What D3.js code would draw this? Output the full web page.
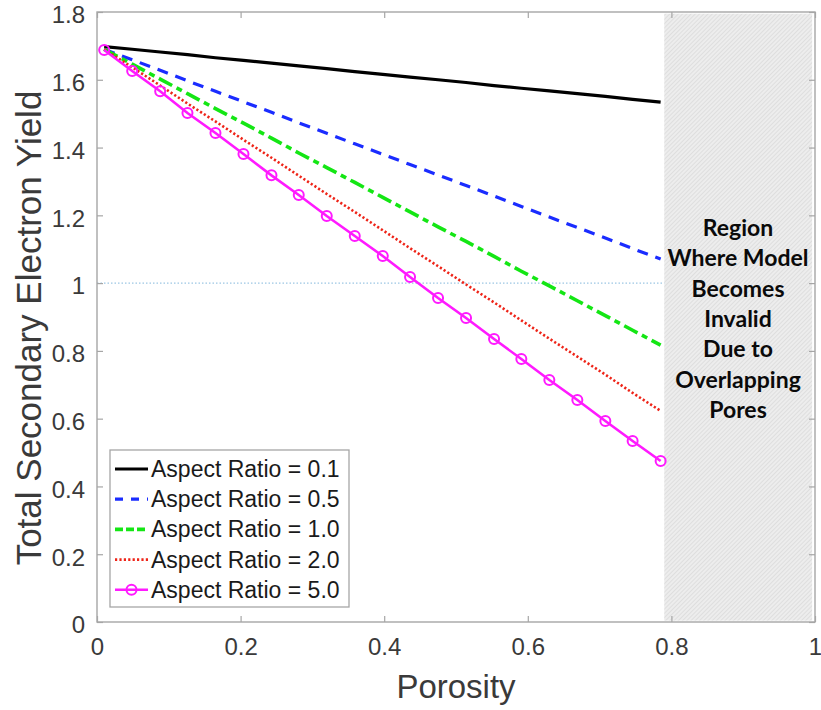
<!DOCTYPE html>
<html>
<head>
<meta charset="utf-8">
<script src="https://cdn.jsdelivr.net/npm/d3@7"></script>
<style>
  body { margin: 0; background: #fff; }
  svg { display: block; font-family: "Liberation Sans", Arial, sans-serif; }
</style>
</head>
<body>
<svg id="chart" width="821" height="710"></svg>
<script>
const porosity = [0.01, 0.049, 0.088, 0.126, 0.165, 0.204, 0.243, 0.281, 0.32, 0.359, 0.398,
  0.436, 0.475, 0.514, 0.553, 0.591, 0.63, 0.669, 0.708, 0.746, 0.785];

const ar01 = [1.698, 1.690, 1.682, 1.674, 1.665, 1.657, 1.649, 1.641, 1.633, 1.624, 1.616,
  1.608, 1.600, 1.592, 1.583, 1.575, 1.567, 1.559, 1.551, 1.542, 1.534];
const ar05 = [1.690, 1.659, 1.628, 1.597, 1.566, 1.535, 1.504, 1.473, 1.442, 1.411, 1.380,
  1.350, 1.319, 1.288, 1.257, 1.226, 1.195, 1.164, 1.133, 1.102, 1.071];
const ar10 = [1.690, 1.646, 1.602, 1.559, 1.515, 1.472, 1.428, 1.384, 1.341, 1.297, 1.253,
  1.210, 1.166, 1.123, 1.079, 1.035, 0.992, 0.948, 0.904, 0.861, 0.817];
const ar20 = [1.690, 1.637, 1.583, 1.530, 1.477, 1.423, 1.370, 1.317, 1.263, 1.210, 1.156,
  1.103, 1.050, 0.996, 0.943, 0.890, 0.836, 0.783, 0.730, 0.676, 0.623];
const ar50 = [1.688, 1.626, 1.566, 1.502, 1.443, 1.381, 1.318, 1.260, 1.198, 1.139, 1.080,
  1.018, 0.956, 0.897, 0.835, 0.776, 0.714, 0.655, 0.593, 0.534, 0.475];

const seriesNames = ["Aspect Ratio = 0.1", "Aspect Ratio = 0.5", "Aspect Ratio = 1.0",
  "Aspect Ratio = 2.0", "Aspect Ratio = 5.0"];
const seriesColors = ["#000000", "#1a2cff", "#14e614", "#ee2418", "#ff1aff"];
const seriesDash = [null, "11,8", "15,5,6,5", "2.2,2.2", null];
const seriesWidth = [3.2, 3.2, 3.6, 2.6, 2.6];
const seriesValues = [ar01, ar05, ar10, ar20, ar50];

const xTicks = [0, 0.2, 0.4, 0.6, 0.8, 1];
const yTicks = [0, 0.2, 0.4, 0.6, 0.8, 1, 1.2, 1.4, 1.6, 1.8];
const invalidRegion = [0.79, 0.996];
const regionText = ["Region", "Where Model", "Becomes", "Invalid", "Due to", "Overlapping", "Pores"];

const svg = d3.select("#chart");
const m = { left: 97, right: 815, top: 12, bottom: 622 };

const x = d3.scaleLinear().domain([0, 1]).range([m.left, m.right]);
const y = d3.scaleLinear().domain([0, 1.8]).range([m.bottom, m.top]);

// hatch pattern
const pat = svg.append("defs").append("pattern")
  .attr("id", "hatch")
  .attr("patternUnits", "userSpaceOnUse")
  .attr("width", 3).attr("height", 3)
  .attr("patternTransform", "rotate(45)");
pat.append("rect").attr("width", 3).attr("height", 3).attr("fill", "#ededed");
pat.append("line").attr("x1", 0).attr("y1", 0).attr("x2", 0).attr("y2", 3)
  .attr("stroke", "#d4d4d4").attr("stroke-width", 1.2);

svg.append("rect")
  .attr("x", x(invalidRegion[0]))
  .attr("y", y(1.795))
  .attr("width", x(invalidRegion[1]) - x(invalidRegion[0]))
  .attr("height", y(0.004) - y(1.795))
  .attr("fill", "url(#hatch)");

// reference line at 1
svg.append("line")
  .attr("x1", x(0)).attr("x2", x(invalidRegion[0]))
  .attr("y1", y(1)).attr("y2", y(1))
  .attr("stroke", "#9cc6e4").attr("stroke-width", 1.2)
  .attr("stroke-dasharray", "1.5,2");

// axes box
const axisColor = "#a6a6a6";
svg.append("rect")
  .attr("x", m.left).attr("y", m.top)
  .attr("width", m.right - m.left).attr("height", m.bottom - m.top)
  .attr("fill", "none").attr("stroke", axisColor).attr("stroke-width", 1.4);

const gx = svg.append("g").attr("transform", `translate(0,${m.bottom})`)
  .call(d3.axisBottom(x).tickValues(xTicks).tickSize(-6).tickPadding(16).tickFormat(d3.format("")));
const gxTop = svg.append("g").attr("transform", `translate(0,${m.top})`)
  .call(d3.axisTop(x).tickValues(xTicks).tickSize(-6).tickFormat(""));
const gy = svg.append("g").attr("transform", `translate(${m.left},0)`)
  .call(d3.axisLeft(y).tickValues(yTicks).tickSize(-6).tickPadding(12).tickFormat(d3.format("")));
const gyRight = svg.append("g").attr("transform", `translate(${m.right},0)`)
  .call(d3.axisRight(y).tickValues(yTicks).tickSize(-6).tickFormat(""));

[gx, gxTop, gy, gyRight].forEach(g => {
  g.select(".domain").remove();
  g.selectAll(".tick line").attr("stroke", axisColor).attr("stroke-width", 1.2);
  g.selectAll("text").attr("fill", "#3a3a3a").attr("font-size", 24)
    .attr("font-family", "Liberation Sans, Arial, sans-serif");
});
gy.selectAll("text").attr("dy", "0.45em");

// axis labels
svg.append("text")
  .attr("x", x(0.5)).attr("y", 698)
  .attr("text-anchor", "middle").attr("font-size", 33).attr("fill", "#3a3a3a")
  .text("Porosity");
svg.append("text")
  .attr("transform", `translate(41,328) rotate(-90)`)
  .attr("text-anchor", "middle").attr("font-size", 35).attr("fill", "#3a3a3a")
  .text("Total Secondary Electron Yield");

// series
const line = d3.line().x(d => x(d[0])).y(d => y(d[1]));
seriesValues.forEach((vals, i) => {
  const pts = porosity.map((p, j) => [p, vals[j]]);
  svg.append("path")
    .datum(pts)
    .attr("d", line)
    .attr("fill", "none")
    .attr("stroke", seriesColors[i])
    .attr("stroke-width", seriesWidth[i])
    .attr("stroke-dasharray", seriesDash[i]);
  if (i === 4) {
    svg.selectAll(".mk").data(pts).enter().append("circle")
      .attr("class", "mk")
      .attr("cx", d => x(d[0])).attr("cy", d => y(d[1]))
      .attr("r", 5)
      .attr("fill", "none")
      .attr("stroke", seriesColors[i])
      .attr("stroke-width", 2);
  }
});

// region text
const rt = svg.append("text")
  .attr("text-anchor", "middle")
  .attr("font-family", "Lato, 'Open Sans', sans-serif")
  .attr("font-weight", "bold")
  .attr("font-size", 23)
  .attr("fill", "#0a0a0a");
regionText.forEach((t, i) => {
  rt.append("tspan").attr("x", 738).attr("y", 236 + i * 30.3).text(t);
});

// legend
const lg = svg.append("g");
lg.append("rect")
  .attr("x", 110).attr("y", 450).attr("width", 239).attr("height", 157)
  .attr("fill", "#fff").attr("stroke", axisColor).attr("stroke-width", 1.3);
seriesNames.forEach((name, i) => {
  const cy = 469 + i * 30.2;
  lg.append("line")
    .attr("x1", 115).attr("x2", 148).attr("y1", cy).attr("y2", cy)
    .attr("stroke", seriesColors[i]).attr("stroke-width", seriesWidth[i])
    .attr("stroke-dasharray", i === 2 ? "8,3" : (i === 1 ? "8,8" : seriesDash[i]));
  if (i === 4) {
    lg.append("circle").attr("cx", 131.5).attr("cy", cy).attr("r", 5)
      .attr("fill", "none").attr("stroke", seriesColors[i]).attr("stroke-width", 2);
  }
  lg.append("text")
    .attr("x", 151).attr("y", cy + 8)
    .attr("font-size", 23).attr("fill", "#1a1a1a")
    .text(name);
});
</script>
</body>
</html>
